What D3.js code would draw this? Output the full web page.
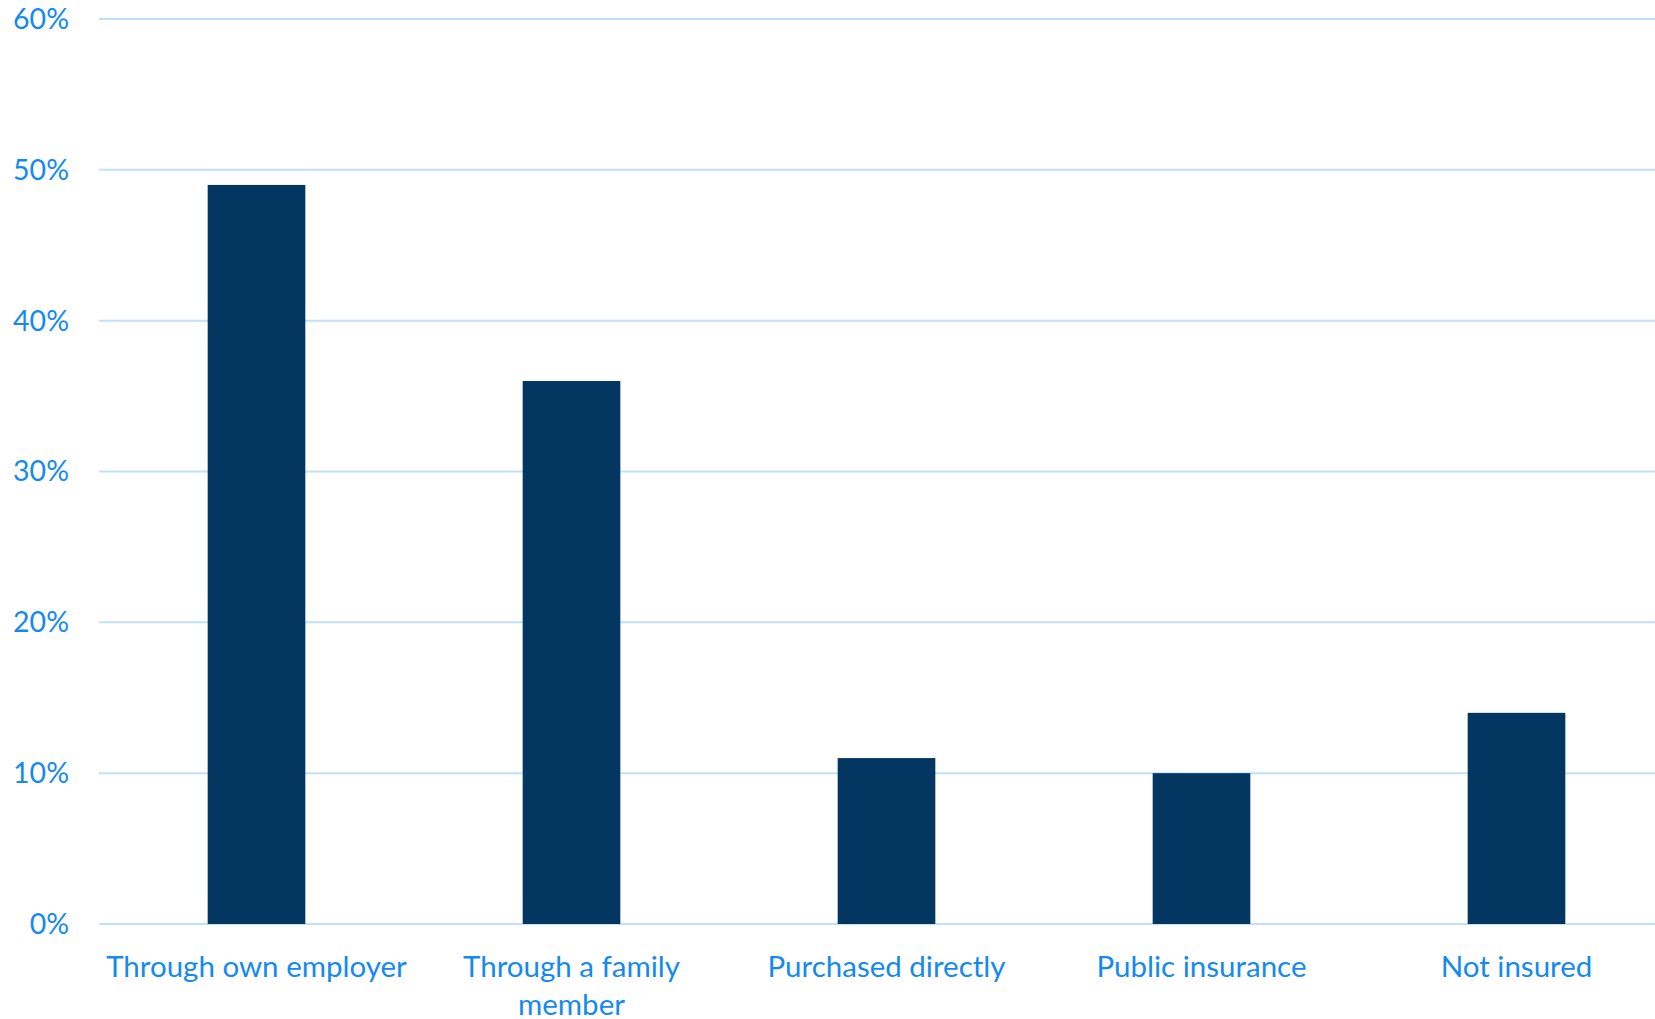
<!DOCTYPE html>
<html>
<head>
<meta charset="utf-8">
<script src="https://cdn.jsdelivr.net/npm/d3@7"></script>
<style>
  html, body { margin: 0; padding: 0; background: #ffffff; }
  svg { display: block; }
  .tick-label, .cat-label { font-family: Lato, "Open Sans", sans-serif; fill: #148af0; }
</style>
</head>
<body>
<svg id="chart" width="1655" height="1019"></svg>
<script>
// Health insurance coverage source, share of respondents
const categories = ["Through own employer", "Through a family member", "Purchased directly", "Public insurance", "Not insured"];
const shares = [0.49, 0.36, 0.11, 0.10, 0.14];
const yTicks = [0, 0.1, 0.2, 0.3, 0.4, 0.5, 0.6];

(function draw() {
  const svg = d3.select("#chart");
  const W = 1655;
  const plotLeft = 99, plotRight = 1674, plotTop = 19, plotBottom = 924;

  const x = d3.scaleBand()
    .domain(categories)
    .range([plotLeft, plotRight])
    .paddingInner(0.69)
    .paddingOuter(0.345);

  const y = d3.scaleLinear()
    .domain([0, 0.6])
    .range([plotBottom, plotTop]);

  // horizontal gridlines
  svg.append("g")
    .selectAll("line")
    .data(yTicks)
    .join("line")
    .attr("x1", plotLeft)
    .attr("x2", W)
    .attr("y1", d => y(d))
    .attr("y2", d => y(d))
    .attr("stroke", "#c2e1f8")
    .attr("stroke-width", 2);

  // y tick labels
  svg.append("g")
    .selectAll("text")
    .data(yTicks)
    .join("text")
    .attr("class", "tick-label")
    .attr("x", 69)
    .attr("y", d => y(d))
    .attr("dy", "0.35em")
    .attr("text-anchor", "end")
    .attr("font-size", 28.5)
    .text(d3.format(".0%"));

  // bars
  svg.append("g")
    .selectAll("rect")
    .data(categories)
    .join("rect")
    .attr("x", d => x(d))
    .attr("width", x.bandwidth())
    .attr("y", (d, i) => y(shares[i]))
    .attr("height", (d, i) => y(0) - y(shares[i]))
    .attr("fill", "#033660");

  // category labels, wrapped to fit the band step
  const step = x.step();
  const labels = svg.append("g")
    .selectAll("text")
    .data(categories)
    .join("text")
    .attr("class", "cat-label")
    .attr("text-anchor", "middle")
    .attr("font-size", 29.5)
    .attr("x", d => x(d) + x.bandwidth() / 2)
    .attr("y", 977);

  labels.each(function(d) {
    const el = d3.select(this);
    const cx = el.attr("x");
    const words = d.split(" ");
    let line = [];
    let tspan = el.append("tspan").attr("x", cx).attr("dy", 0);
    for (const w of words) {
      line.push(w);
      tspan.text(line.join(" "));
      if (tspan.node().getComputedTextLength() > step - 8 && line.length > 1) {
        line.pop();
        tspan.text(line.join(" "));
        line = [w];
        tspan = el.append("tspan").attr("x", cx).attr("dy", 37.5).text(w);
      }
    }
  });
})();
</script>
</body>
</html>
